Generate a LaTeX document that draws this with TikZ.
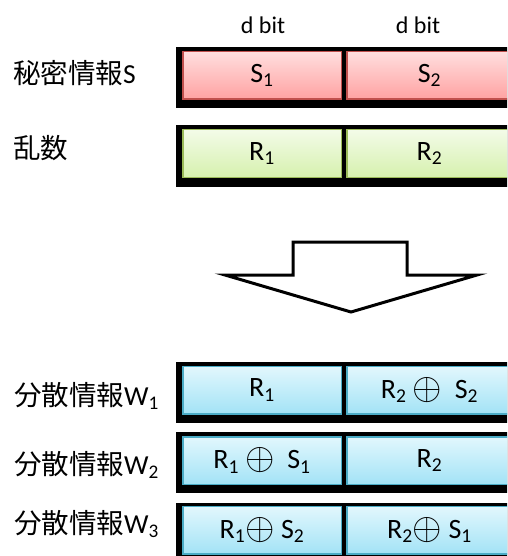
\documentclass[tikz,border=0pt]{standalone}
\usepackage{fix-cm}
\usepackage{graphicx}
\usepackage{fontspec}
\setmainfont{Carlito}
\newfontfamily\jp{Noto Sans CJK JP}
\newcommand\xo{\raisebox{-1pt}{\scalebox{1.35}{$\oplus$}}}
\definecolor{pinkt}{HTML}{FFDEDE}
\definecolor{pinkb}{HTML}{FFA2A2}
\definecolor{pinkd}{HTML}{C0504D}
\definecolor{greent}{HTML}{F3FBE8}
\definecolor{greenb}{HTML}{D6F1AE}
\definecolor{greend}{HTML}{9BBB59}
\definecolor{bluet}{HTML}{E2F7FD}
\definecolor{blueb}{HTML}{A3E3F6}
\definecolor{blued}{HTML}{4BACC6}
\begin{document}
\begin{tikzpicture}[x=1pt,y=-1pt,
  blk/.style={fill=black,draw=none,inner sep=0pt,minimum width=336pt,minimum height=61pt},
  cell/.style={inner sep=0pt,minimum width=158.5pt,minimum height=47.5pt,line width=1.5pt,font=\fontsize{28}{32}\selectfont},
  wide/.style={minimum width=165pt},
  pinkcell/.style={cell,draw=pinkd,top color=pinkt,bottom color=pinkb},
  greencell/.style={cell,draw=greend,top color=greent,bottom color=greenb},
  bluecell/.style={cell,draw=blued,top color=bluet,bottom color=blueb},
  lab/.style={anchor=west,inner sep=0pt,font=\fontsize{27.5}{31}\selectfont},
  dbit/.style={inner sep=0pt,font=\fontsize{24}{28}\selectfont},
  bigarrow/.style={draw=black,fill=white,line width=3pt,line join=miter}
]
\useasboundingbox (0,0) rectangle (507,556);
\clip (0,0) rectangle (507,556);
\fill[white] (0,0) rectangle (507,556);

% labels
\node[dbit] (d1) at (263,25) {d bit};
\node[dbit] (d2) at (418,25) {d bit};
\node[lab] (ls) at (13,73) {{\jp 秘密情報}S};
\node[lab] (lr) at (13,148) {{\jp 乱数}};
\node[lab] (lw1) at (14,396) {{\jp 分散情報}W\textsubscript{1}};
\node[lab] (lw2) at (14,465) {{\jp 分散情報}W\textsubscript{2}};
\node[lab] (lw3) at (14,524) {{\jp 分散情報}W\textsubscript{3}};

% row S
\node[blk] (bs) at (344,77.5) {};
\node[pinkcell] (s1) at (262,75.5) {S\textsubscript{1}};
\node[pinkcell,wide] (s2) at (429.5,75.5) {S\textsubscript{2}};
% row R
\node[blk] (br) at (344,156) {};
\node[greencell] (r1) at (262,153.5) {R\textsubscript{1}};
\node[greencell,wide] (r2) at (429.5,153.5) {R\textsubscript{2}};

% arrow
\draw[bigarrow] (293,242) -- (407,242) -- (407,275) -- (477,275) -- (351,312) -- (225,275) -- (293,275) -- cycle;

% W1
\node[blk] (bw1) at (344,392.5) {};
\node[bluecell] (w11) at (262,390) {R\textsubscript{1}};
\node[bluecell,wide] (w12) at (429.5,390) {R\textsubscript{2} \xo\ \ S\textsubscript{2}};
% W2
\node[blk] (bw2) at (344,462.5) {};
\node[bluecell] (w21) at (262,460.5) {R\textsubscript{1} \xo\ \ S\textsubscript{1}};
\node[bluecell,wide] (w22) at (429.5,460.5) {R\textsubscript{2}};
% W3
\node[blk] (bw3) at (344,533) {};
\node[bluecell] (w31) at (262,530) {R\textsubscript{1}\xo\ S\textsubscript{2}};
\node[bluecell,wide] (w32) at (429.5,530) {R\textsubscript{2}\xo\ S\textsubscript{1}};
\end{tikzpicture}
\end{document}
